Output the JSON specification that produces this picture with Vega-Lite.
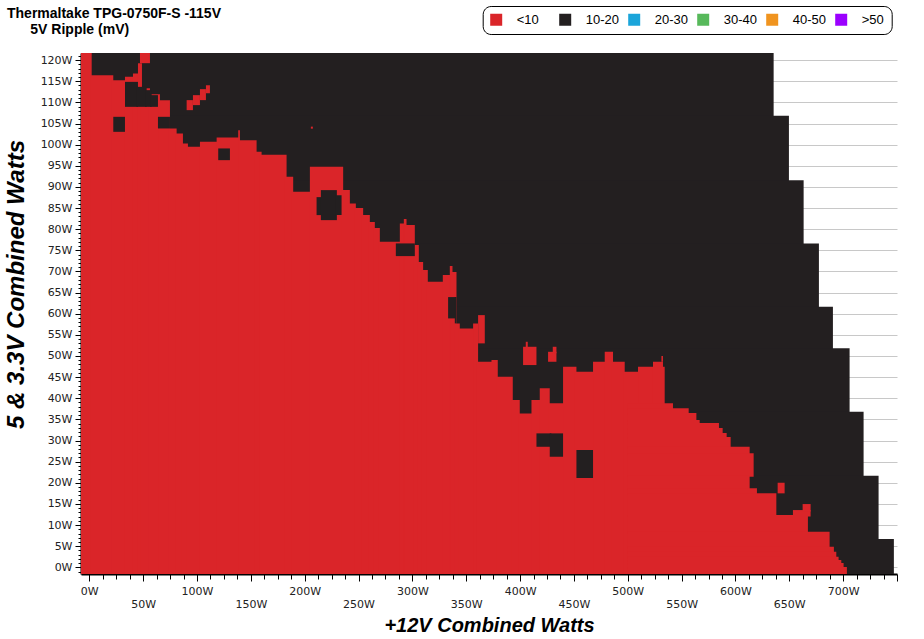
{
  "$schema": "https://vega.github.io/schema/vega-lite/v6.json",
  "width": 816,
  "height": 521,
  "autosize": {"type": "none"},
  "padding": {"left": 81, "top": 53, "right": 27, "bottom": 65},
  "background": "white",
  "config": {"view": {"stroke": null}},
  "title": {
    "text": "Thermaltake TPG-0750F-S -115V",
    "subtitle": "\u200b\u00a0\u00a0\u00a0\u00a0\u00a0\u00a05V Ripple (mV)",
    "anchor": "start",
    "frame": "group",
    "dx": -74,
    "dy": 31,
    "offset": 0,
    "font": "Liberation Sans",
    "fontSize": 14,
    "fontWeight": "bold",
    "color": "black",
    "subtitleFont": "Liberation Sans",
    "subtitleFontSize": 14,
    "subtitleFontWeight": "bold",
    "subtitleColor": "black",
    "subtitlePadding": 2
  },
  "datasets": {
    "d": [
      {"x": -7.7, "x2": 635.45, "y": 106.46, "y2": 121.68, "k": "10-20", "z": 0},
      {"x": -7.7, "x2": 649.65, "y": 91.25, "y2": 106.81, "k": "10-20", "z": 0},
      {"x": -7.7, "x2": 663.3, "y": 76.28, "y2": 91.6, "k": "10-20", "z": 0},
      {"x": -7.7, "x2": 677.5, "y": 61.29, "y2": 76.63, "k": "10-20", "z": 0},
      {"x": -7.7, "x2": 690.5, "y": 51.45, "y2": 61.64, "k": "10-20", "z": 0},
      {"x": -7.7, "x2": 705.98, "y": 36.45, "y2": 51.8, "k": "10-20", "z": 0},
      {"x": -7.7, "x2": 718.98, "y": 21.32, "y2": 36.8, "k": "10-20", "z": 0},
      {"x": -7.7, "x2": 732.9, "y": 6.34, "y2": 21.67, "k": "10-20", "z": 0},
      {"x": -7.7, "x2": 747.1, "y": -1.58, "y2": 6.69, "k": "10-20", "z": 0},

      {"x": -7.7, "x2": 2.23, "y": -1.58, "y2": 121.68, "k": "<10", "z": 1},
      {"x": 0.73, "x2": 22.27, "y": -1.58, "y2": 116.44, "k": "<10", "z": 1},
      {"x": 20.77, "x2": 34.63, "y": -1.58, "y2": 115.26, "k": "<10", "z": 1},
      {"x": 33.13, "x2": 42.06, "y": -1.58, "y2": 116.04, "k": "<10", "z": 1},
      {"x": 40.56, "x2": 46.7, "y": -1.58, "y2": 116.84, "k": "<10", "z": 1},
      {"x": 45.2, "x2": 48.91, "y": -1.58, "y2": 119.27, "k": "<10", "z": 1},
      {"x": 47.41, "x2": 56.33, "y": -1.58, "y2": 113.36, "k": "<10", "z": 1},
      {"x": 54.83, "x2": 65.61, "y": -1.58, "y2": 111.95, "k": "<10", "z": 1},
      {"x": 64.11, "x2": 74.9, "y": -1.58, "y2": 110.53, "k": "<10", "z": 1},
      {"x": 73.4, "x2": 81.11, "y": -1.58, "y2": 103.83, "k": "<10", "z": 1},
      {"x": 79.61, "x2": 86.96, "y": -1.58, "y2": 102.65, "k": "<10", "z": 1},
      {"x": 85.46, "x2": 91.6, "y": -1.58, "y2": 100.28, "k": "<10", "z": 1},
      {"x": 90.1, "x2": 104.24, "y": -1.58, "y2": 99.48, "k": "<10", "z": 1},
      {"x": 102.74, "x2": 119.74, "y": -1.58, "y2": 100.66, "k": "<10", "z": 1},
      {"x": 118.24, "x2": 139.78, "y": -1.58, "y2": 101.66, "k": "<10", "z": 1},
      {"x": 138.28, "x2": 139.86, "y": -1.58, "y2": 103.43, "k": "<10", "z": 1},
      {"x": 138.36, "x2": 155.36, "y": -1.58, "y2": 101.06, "k": "<10", "z": 1},
      {"x": 153.86, "x2": 160, "y": -1.58, "y2": 98.3, "k": "<10", "z": 1},
      {"x": 158.5, "x2": 183.2, "y": -1.58, "y2": 97.63, "k": "<10", "z": 1},
      {"x": 181.7, "x2": 189.33, "y": -1.58, "y2": 92.38, "k": "<10", "z": 1},
      {"x": 187.83, "x2": 206.33, "y": -1.58, "y2": 88.84, "k": "<10", "z": 1},
      {"x": 204.83, "x2": 235.73, "y": -1.58, "y2": 94.75, "k": "<10", "z": 1},
      {"x": 234.23, "x2": 241.95, "y": -1.58, "y2": 89.24, "k": "<10", "z": 1},
      {"x": 240.45, "x2": 247.52, "y": -1.58, "y2": 86.09, "k": "<10", "z": 1},
      {"x": 246.02, "x2": 254.29, "y": -1.58, "y2": 84.98, "k": "<10", "z": 1},
      {"x": 252.79, "x2": 260.51, "y": -1.58, "y2": 83.33, "k": "<10", "z": 1},
      {"x": 259.01, "x2": 265.15, "y": -1.58, "y2": 81.67, "k": "<10", "z": 1},
      {"x": 263.65, "x2": 269.79, "y": -1.58, "y2": 80.25, "k": "<10", "z": 1},
      {"x": 268.29, "x2": 289.85, "y": -1.58, "y2": 77.01, "k": "<10", "z": 1},
      {"x": 288.35, "x2": 293.56, "y": -1.58, "y2": 81.36, "k": "<10", "z": 1},
      {"x": 292.06, "x2": 294.57, "y": -1.58, "y2": 82.38, "k": "<10", "z": 1},
      {"x": 293.07, "x2": 302.27, "y": -1.58, "y2": 80.96, "k": "<10", "z": 1},
      {"x": 300.77, "x2": 305.99, "y": -1.58, "y2": 76.23, "k": "<10", "z": 1},
      {"x": 304.49, "x2": 309.98, "y": -1.58, "y2": 72.21, "k": "<10", "z": 1},
      {"x": 308.48, "x2": 314.34, "y": -1.58, "y2": 70.32, "k": "<10", "z": 1},
      {"x": 312.84, "x2": 329.76, "y": -1.58, "y2": 67.55, "k": "<10", "z": 1},
      {"x": 328.26, "x2": 336.26, "y": -1.58, "y2": 69.13, "k": "<10", "z": 1},
      {"x": 334.76, "x2": 337.26, "y": -1.58, "y2": 71.26, "k": "<10", "z": 1},
      {"x": 335.76, "x2": 340.97, "y": -1.58, "y2": 69.84, "k": "<10", "z": 1},
      {"x": 339.47, "x2": 344.04, "y": -1.58, "y2": 57.71, "k": "<10", "z": 1},
      {"x": 342.54, "x2": 357.88, "y": -1.58, "y2": 56.53, "k": "<10", "z": 1},
      {"x": 356.38, "x2": 361.02, "y": -1.58, "y2": 57.71, "k": "<10", "z": 1},
      {"x": 359.52, "x2": 374.96, "y": -1.58, "y2": 48.63, "k": "<10", "z": 1},
      {"x": 373.46, "x2": 379.3, "y": -1.58, "y2": 49.03, "k": "<10", "z": 1},
      {"x": 377.8, "x2": 393.23, "y": -1.58, "y2": 45.08, "k": "<10", "z": 1},
      {"x": 391.73, "x2": 399.72, "y": -1.58, "y2": 39.57, "k": "<10", "z": 1},
      {"x": 398.22, "x2": 412.08, "y": -1.58, "y2": 36.42, "k": "<10", "z": 1},
      {"x": 410.58, "x2": 419.78, "y": -1.58, "y2": 39.57, "k": "<10", "z": 1},
      {"x": 418.28, "x2": 427.56, "y": -1.58, "y2": 42.34, "k": "<10", "z": 1},
      {"x": 426.06, "x2": 441.41, "y": -1.58, "y2": 38.79, "k": "<10", "z": 1},
      {"x": 439.91, "x2": 452.34, "y": -1.58, "y2": 47.45, "k": "<10", "z": 1},
      {"x": 450.84, "x2": 469.25, "y": -1.58, "y2": 46.26, "k": "<10", "z": 1},
      {"x": 467.75, "x2": 480.11, "y": -1.58, "y2": 48.63, "k": "<10", "z": 1},
      {"x": 478.61, "x2": 486.31, "y": -1.58, "y2": 50.99, "k": "<10", "z": 1},
      {"x": 484.81, "x2": 497.17, "y": -1.58, "y2": 48.63, "k": "<10", "z": 1},
      {"x": 495.67, "x2": 511.01, "y": -1.58, "y2": 46.26, "k": "<10", "z": 1},
      {"x": 509.51, "x2": 524.93, "y": -1.58, "y2": 47.45, "k": "<10", "z": 1},
      {"x": 523.43, "x2": 532.71, "y": -1.58, "y2": 48.63, "k": "<10", "z": 1},
      {"x": 531.21, "x2": 534.29, "y": -1.58, "y2": 47.45, "k": "<10", "z": 1},
      {"x": 500, "x2": 541.99, "y": 37.26, "y2": 38.79, "k": "<10", "z": 1},
      {"x": 500, "x2": 556.57, "y": 36.15, "y2": 37.61, "k": "<10", "z": 1},
      {"x": 500, "x2": 563.71, "y": 34.49, "y2": 36.5, "k": "<10", "z": 1},
      {"x": 500, "x2": 566.78, "y": 33.78, "y2": 34.84, "k": "<10", "z": 1},
      {"x": 500, "x2": 584.69, "y": 32.6, "y2": 34.13, "k": "<10", "z": 1},
      {"x": 500, "x2": 588.12, "y": 31.41, "y2": 32.95, "k": "<10", "z": 1},
      {"x": 500, "x2": 591.83, "y": 30.47, "y2": 31.76, "k": "<10", "z": 1},
      {"x": 500, "x2": 595.55, "y": 28.17, "y2": 30.82, "k": "<10", "z": 1},
      {"x": 500, "x2": 613.18, "y": 26.61, "y2": 28.52, "k": "<10", "z": 1},
      {"x": 500, "x2": 616.89, "y": 21.43, "y2": 26.96, "k": "<10", "z": 1},
      {"x": 500, "x2": 613.18, "y": 18.33, "y2": 21.78, "k": "<10", "z": 1},
      {"x": 500, "x2": 619.95, "y": 17.15, "y2": 18.68, "k": "<10", "z": 1},
      {"x": 500, "x2": 637.96, "y": 12.02, "y2": 17.5, "k": "<10", "z": 1},
      {"x": 653.36, "x2": 669.79, "y": 12.02, "y2": 13.55, "k": "<10", "z": 1},
      {"x": 500, "x2": 667.29, "y": 8.07, "y2": 12.37, "k": "<10", "z": 1},
      {"x": 500, "x2": 687.42, "y": 4.52, "y2": 8.42, "k": "<10", "z": 1},
      {"x": 500, "x2": 691.41, "y": 3.34, "y2": 4.87, "k": "<10", "z": 1},
      {"x": 500, "x2": 693.64, "y": 2.16, "y2": 3.69, "k": "<10", "z": 1},
      {"x": 500, "x2": 695.78, "y": 1.38, "y2": 2.51, "k": "<10", "z": 1},
      {"x": 500, "x2": 698.28, "y": 0.67, "y2": 1.73, "k": "<10", "z": 1},
      {"x": 500, "x2": 700.42, "y": -0.28, "y2": 1.02, "k": "<10", "z": 1},
      {"x": 500, "x2": 703.48, "y": -1.58, "y2": 0.07, "k": "<10", "z": 1},

      {"x": 33.13, "x2": 45.2, "y": 108.94, "y2": 114.85, "k": "10-20", "z": 2},
      {"x": 43.7, "x2": 53.27, "y": 108.94, "y2": 113.67, "k": "10-20", "z": 2},
      {"x": 51.77, "x2": 57.91, "y": 108.94, "y2": 112.89, "k": "10-20", "z": 2},
      {"x": 56.41, "x2": 63.76, "y": 108.94, "y2": 111.71, "k": "10-20", "z": 2},
      {"x": 22.27, "x2": 33.13, "y": 103.03, "y2": 106.58, "k": "10-20", "z": 2},
      {"x": 63.76, "x2": 74.9, "y": 103.83, "y2": 106.58, "k": "10-20", "z": 2},
      {"x": 119.72, "x2": 130.58, "y": 96.33, "y2": 99.1, "k": "10-20", "z": 2},
      {"x": 211.04, "x2": 216.53, "y": 83.33, "y2": 87.58, "k": "10-20", "z": 2},
      {"x": 215.03, "x2": 229.88, "y": 82.14, "y2": 89.24, "k": "10-20", "z": 2},
      {"x": 228.38, "x2": 234.25, "y": 83.33, "y2": 88.04, "k": "10-20", "z": 2},
      {"x": 284.64, "x2": 302.27, "y": 73.63, "y2": 76.63, "k": "10-20", "z": 2},
      {"x": 333.18, "x2": 340.5, "y": 58.89, "y2": 63.93, "k": "10-20", "z": 2},
      {"x": 339.4, "x2": 340.97, "y": 57.71, "y2": 63.93, "k": "10-20", "z": 2},
      {"x": 415.22, "x2": 429.06, "y": 28.52, "y2": 31.69, "k": "10-20", "z": 2},
      {"x": 427.56, "x2": 439.91, "y": 26.16, "y2": 31.69, "k": "10-20", "z": 2},
      {"x": 452.34, "x2": 467.75, "y": 21.12, "y2": 27.74, "k": "10-20", "z": 2},

      {"x": 47.05, "x2": 56.33, "y": 119.27, "y2": 121.68, "k": "<10", "z": 3},
      {"x": 90.39, "x2": 96.24, "y": 108.16, "y2": 110.53, "k": "<10", "z": 3},
      {"x": 96.24, "x2": 102.74, "y": 109.35, "y2": 111.71, "k": "<10", "z": 3},
      {"x": 102.74, "x2": 108.31, "y": 110.53, "y2": 113.13, "k": "<10", "z": 3},
      {"x": 108.31, "x2": 112.02, "y": 112.18, "y2": 114.07, "k": "<10", "z": 3},
      {"x": 205.75, "x2": 207.61, "y": 103.78, "y2": 104.26, "k": "<10", "z": 3},
      {"x": 361.02, "x2": 367.24, "y": 52.98, "y2": 59.67, "k": "<10", "z": 3},
      {"x": 402.78, "x2": 415.22, "y": 47.85, "y2": 52.18, "k": "<10", "z": 3},
      {"x": 405.29, "x2": 407.15, "y": 51.83, "y2": 53.36, "k": "<10", "z": 3},
      {"x": 425.99, "x2": 433.78, "y": 48.63, "y2": 50.99, "k": "<10", "z": 3},
      {"x": 430.35, "x2": 433.78, "y": 50.64, "y2": 52.18, "k": "<10", "z": 3},
      {"x": 531.23, "x2": 532.71, "y": 48.63, "y2": 49.98, "k": "<10", "z": 3},
      {"x": 639.17, "x2": 645.66, "y": 17.5, "y2": 20.01, "k": "<10", "z": 3},
      {"x": 662.37, "x2": 669.79, "y": 13.2, "y2": 14.97, "k": "<10", "z": 3}
    ]
  },
  "data": {"name": "d"},
  "encoding": {
    "x": {
      "field": "x", "type": "quantitative",
      "scale": {"domain": [-7.7, 750], "nice": false, "zero": false},
      "axis": {
        "values": [0,12.5,25,37.5,50,62.5,75,87.5,100,112.5,125,137.5,150,162.5,175,187.5,200,212.5,225,237.5,250,262.5,275,287.5,300,312.5,325,337.5,350,362.5,375,387.5,400,412.5,425,437.5,450,462.5,475,487.5,500,512.5,525,537.5,550,562.5,575,587.5,600,612.5,625,637.5,650,662.5,675,687.5,700,712.5,725,737.5,750],
        "labelExpr": "datum.value % 50 === 0 && datum.value <= 700 ? (datum.value % 100 === 0 ? datum.value + 'W' : ['', datum.value + 'W']) : ''",
        "labelLineHeight": 13.5,
        "labelFont": "DejaVu Sans",
        "labelFontSize": 11,
        "labelColor": "#222222",
        "labelPadding": 4,
        "labelOverlap": false,
        "labelFlush": false,
        "labelBound": false,
        "tickSize": {"condition": {"test": "datum.value % 50 === 0", "value": 7}, "value": 5},
        "tickColor": "black",
        "tickWidth": 1,
        "domainColor": "black",
        "domainWidth": 2,
        "grid": false,
        "title": "+12V Combined Watts",
        "titleFont": "Liberation Sans",
        "titleFontSize": 20,
        "titleFontStyle": "italic",
        "titleFontWeight": "bold",
        "titleColor": "black",
        "titleY": 57,
        "titleBaseline": "alphabetic"
      }
    },
    "x2": {"field": "x2"},
    "y": {
      "field": "y", "type": "quantitative",
      "scale": {"domain": [-1.58, 121.68], "nice": false, "zero": false},
      "axis": {
        "values": [-1,0,1,2,3,4,5,6,7,8,9,10,11,12,13,14,15,16,17,18,19,20,21,22,23,24,25,26,27,28,29,30,31,32,33,34,35,36,37,38,39,40,41,42,43,44,45,46,47,48,49,50,51,52,53,54,55,56,57,58,59,60,61,62,63,64,65,66,67,68,69,70,71,72,73,74,75,76,77,78,79,80,81,82,83,84,85,86,87,88,89,90,91,92,93,94,95,96,97,98,99,100,101,102,103,104,105,106,107,108,109,110,111,112,113,114,115,116,117,118,119,120,121],
        "labelExpr": "datum.value % 5 === 0 && datum.value >= 0 && datum.value <= 120 ? datum.value + 'W' : ''",
        "labelFont": "DejaVu Sans",
        "labelFontSize": 11,
        "labelColor": "#222222",
        "labelPadding": 3,
        "labelOverlap": false,
        "labelFlush": false,
        "labelBound": false,
        "tickSize": {"condition": {"test": "datum.value % 5 === 0", "value": 6}, "value": 3},
        "tickColor": "black",
        "tickWidth": 1,
        "domainColor": "black",
        "domainWidth": 2,
        "grid": true,
        "gridColor": "#c8c8c8",
        "gridWidth": 1,
        "gridOpacity": {"condition": {"test": "datum.value % 5 === 0 && datum.value >= 0", "value": 1}, "value": 0},
        "title": "5 & 3.3V Combined Watts",
        "titleFont": "Liberation Sans",
        "titleFontSize": 24,
        "titleFontStyle": "italic",
        "titleFontWeight": "bold",
        "titleColor": "black",
        "titleAngle": -90,
        "titleX": -65,
        "titleY": 231,
        "titleAlign": "center",
        "titleBaseline": "middle"
      }
    },
    "y2": {"field": "y2"},
    "color": {
      "field": "k", "type": "nominal",
      "scale": {
        "domain": ["<10", "10-20", "20-30", "30-40", "40-50", ">50"],
        "range": ["#da2529", "#231f20", "#1ba5da", "#57b95b", "#f0941f", "#9b00ff"]
      },
      "legend": {
        "orient": "none",
        "legendX": 401.7,
        "legendY": -47,
        "direction": "horizontal",
        "columns": 6,
        "gridAlign": "all",
        "title": null,
        "symbolType": "square",
        "symbolSize": 144,
        "symbolStrokeWidth": 0,
        "symbolOpacity": 1,
        "labelFont": "Liberation Sans",
        "labelFontSize": 13,
        "labelColor": "black",
        "labelOffset": 14,
        "columnPadding": 8,
        "padding": 7,
        "strokeColor": "black",
        "cornerRadius": 8,
        "fillColor": "white"
      }
    }
  },
  "layer": [
    {"transform": [{"filter": "datum.z == 0"}], "mark": {"type": "rect", "strokeWidth": 0}},
    {"transform": [{"filter": "datum.z == 1"}], "mark": {"type": "rect", "strokeWidth": 0}},
    {"transform": [{"filter": "datum.z == 2"}], "mark": {"type": "rect", "strokeWidth": 0}},
    {"transform": [{"filter": "datum.z == 3"}], "mark": {"type": "rect", "strokeWidth": 0}}
  ]
}
